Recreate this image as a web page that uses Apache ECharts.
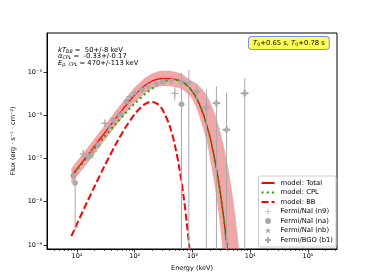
<!DOCTYPE html>
<html><head><meta charset="utf-8">
<script src="https://cdn.jsdelivr.net/npm/echarts@6/dist/echarts.min.js"></script>
<style>html,body{margin:0;padding:0;background:#fff}#c{width:374px;height:280px}</style>
</head><body><div id="c"></div>
<script>
// ---- model curves (energy keV, flux erg s^-1 cm^-2) ----
const modelE = [8,10,15,20,30,50,70,100,150,200,250,300,400,500,600,700,850,1000,1200,1500,1800,2000,2300,2600,3000,3500,4000,4500];
const modelTotal = [3.95e-8,5.77e-8,1.15e-7,1.90e-7,3.86e-7,9.43e-7,1.67e-6,2.92e-6,4.85e-6,6.16e-6,6.83e-6,7.07e-6,7.04e-6,6.76e-6,6.29e-6,5.66e-6,4.58e-6,3.52e-6,2.35e-6,1.17e-6,5.46e-7,3.20e-7,1.39e-7,5.86e-8,1.79e-8,3.91e-9,8.3e-10,1.7e-10];
const modelCPL = [3.79e-8,5.46e-8,1.06e-7,1.68e-7,3.19e-7,6.96e-7,1.14e-6,1.85e-6,3.05e-6,4.13e-6,5.03e-6,5.70e-6,6.46e-6,6.57e-6,6.24e-6,5.65e-6,4.58e-6,3.52e-6,2.35e-6,1.17e-6,5.46e-7,3.20e-7,1.39e-7,5.86e-8,1.79e-8,3.91e-9,8.3e-10,1.7e-10];
const bbE = [8,10,15,20,30,50,70,100,130,150,175,200,250,300,400,500,600,700,800,900];
const modelBB = [1.6e-9,3.07e-9,9.84e-9,2.21e-8,6.70e-8,2.47e-7,5.34e-7,1.06e-6,1.56e-6,1.80e-6,1.99e-6,2.03e-6,1.80e-6,1.37e-6,5.84e-7,1.93e-7,5.41e-8,1.36e-8,3.13e-9,6.8e-10];
// ---- uncertainty band of total model ----
const bandE = [8,10,15,20,30,50,70,100,150,200,250,300,400,500,600,700,850,1000,1200,1500,1800,2000,2300,2600,3000,3500,4000,4500,5000,5500,6000,6500];
const bandUpper = [5.9e-8,8.7e-8,1.73e-7,2.85e-7,5.8e-7,1.41e-6,2.5e-6,4.4e-6,7.3e-6,9.2e-6,1.02e-5,1.06e-5,1.06e-5,1.01e-5,9.4e-6,8.5e-6,6.9e-6,6.1e-6,5.3e-6,3.9e-6,2.75e-6,2.1e-6,1.35e-6,8.6e-7,4.4e-7,1.9e-7,7.8e-8,3.3e-8,1.3e-8,4.8e-9,1.8e-9,7e-10];
const bandLower = [2.63e-8,3.85e-8,7.7e-8,1.27e-7,2.57e-7,6.3e-7,1.11e-6,1.95e-6,3.23e-6,4.1e-6,4.55e-6,4.71e-6,4.69e-6,4.5e-6,4.19e-6,3.77e-6,3.05e-6,2.35e-6,1.35e-6,5.46e-7,2.2e-7,1.05e-7,3.6e-8,1.25e-8,2.9e-9,4e-10,1e-10,1e-10,1e-10,1e-10,1e-10,1e-10];
// ---- data points: [E, F, Elo, Ehi, Flo, Fhi] ----
const n9 = [[12.8,1.26e-7,11.4,14.4,1.0e-7,1.6e-7],[19.2,1.45e-7,17.6,21,1.2e-7,1.75e-7],[30.5,6.5e-7,27,37,5.3e-7,8.0e-7],[51.8,1.02e-6,47,57,8.7e-7,1.2e-6],[82.5,2.7e-6,74,92,2.3e-6,3.15e-6],[171,4.57e-6,150,195,3.9e-6,5.4e-6],[495,3.2e-6,430,570,2.2e-6,4.5e-6]];
const na = [[9.3,2.7e-8,8.8,9.9,2.2e-9,4.6e-8],[15.7,1.11e-7,14.6,16.9,8.5e-8,1.4e-7],[23.3,2.06e-7,21.3,25.5,1.75e-7,2.45e-7],[42.3,7.8e-7,38.5,46.5,6.7e-7,9.0e-7],[72,2.06e-6,65,80,1.8e-6,2.35e-6],[132,3.8e-6,118,148,3.3e-6,4.4e-6],[312,6.0e-6,275,355,5.0e-6,7.2e-6],[646,1.8e-6,570,730,1e-10,3.6e-6]];
const nb = [[8.6,4.2e-8,8.1,9.1,3.1e-8,5.6e-8],[17.9,1.2e-7,16.6,19.3,1.0e-7,1.45e-7],[37,5.5e-7,33.5,40.5,4.7e-7,6.4e-7],[59,1.11e-6,54,65,9.6e-7,1.28e-6],[101,3.33e-6,91,112,2.9e-6,3.8e-6],[239,5.5e-6,212,268,4.7e-6,6.4e-6],[432,6.5e-6,380,490,5.3e-6,8.0e-6],[865,5.7e-6,760,980,1e-10,1.1e-5]];
const b1 = [[646,6.0e-6,560,740,3.6e-6,9.5e-6],[1180,3.5e-6,1000,1400,2.0e-6,5.0e-6],[1740,1.5e-6,1450,2050,1e-10,4.0e-6],[2600,1.9e-6,2200,3050,1e-10,4.6e-6],[3890,4.6e-7,3300,4600,1e-10,3.3e-6],[8030,3.2e-6,6800,9500,1e-10,7.2e-6]];
// ---- axes ----
const xRange = [3.03, 3.18e5];
const yRange = [8.08e-10, 7.94e-5];
const xTicks = [10,100,1000,10000,100000];
const yTicks = [1e-9,1e-8,1e-7,1e-6,1e-5];
const xMinorTicks = [];
for (let p = 0; p <= 5; p++) for (let k = 2; k <= 9; k++) { const v = k * Math.pow(10, p); if (v > xRange[0] && v < xRange[1]) xMinorTicks.push(v); }

const FONT = 'DejaVu Sans';
const GREY = '#a9a9a9';
const supMap = {'-':'⁻','0':'⁰','1':'¹','2':'²','3':'³','4':'⁴','5':'⁵','6':'⁶','7':'⁷','8':'⁸','9':'⁹'};
function powLabel(v) {
  const l = Math.log10(v), e = Math.round(l);
  if (Math.abs(l - e) > 0.01) return '';
  return '10' + String(e).split('').map(c => supMap[c]).join('');
}
const pairs = (xs, ys) => xs.map((x, i) => [x, ys[i]]);

const SYM_PLUS = 'path://M4.4,0H5.6V4.4H10V5.6H5.6V10H4.4V5.6H0V4.4H4.4Z';
const SYM_P = 'path://M3.2,0H6.8V3.2H10V6.8H6.8V10H3.2V6.8H0V3.2H3.2Z';
const SYM_STAR = 'path://M50,0L61.8,36.2L100,36.2L69.1,58.8L80.9,95.1L50,72.7L19.1,95.1L30.9,58.8L0,36.2L38.2,36.2Z';

function clipRect(params) {
  const c = params.coordSys;
  return {type: 'rect', shape: {x: c.x, y: c.y, width: c.width, height: c.height}};
}
function errRender(params, api) {
  const p = api.coord([api.value(0), api.value(1)]);
  const l = api.coord([api.value(2), api.value(1)]);
  const r = api.coord([api.value(3), api.value(1)]);
  const lo = api.coord([api.value(0), api.value(4)]);
  const hi = api.coord([api.value(0), api.value(5)]);
  const st = {stroke: GREY, lineWidth: 1};
  return {type: 'group', clipPath: clipRect(params), children: [
    {type: 'line', shape: {x1: l[0], y1: p[1], x2: r[0], y2: p[1]}, style: st},
    {type: 'line', shape: {x1: p[0], y1: lo[1], x2: p[0], y2: hi[1]}, style: st}
  ]};
}
const errSeries = (d) => ({type: 'custom', data: d, renderItem: errRender, encode: {x: 0, y: 1}, z: 4, silent: true});
const markSeries = (name, d, sym, size) => ({name, type: 'scatter', data: d.map(r => [r[0], r[1]]), symbol: sym, symbolSize: size, itemStyle: {color: GREY, opacity: 1}, z: 5, silent: true});

const chart = echarts.init(document.getElementById('c'), null, {renderer: 'canvas'});
chart.setOption({
  animation: false,
  textStyle: {fontFamily: FONT},
  grid: {left: 47, right: 37, top: 33, bottom: 31, show: true, borderColor: '#000', borderWidth: 1, containLabel: false},
  xAxis: [{
    type: 'log', logBase: 10, min: xRange[0], max: xRange[1],
    name: 'Energy (keV)', nameLocation: 'middle', nameGap: 14,
    nameTextStyle: {fontSize: 6.5, color: '#000', fontFamily: FONT},
    axisLine: {show: true, lineStyle: {color: '#000', width: 1}},
    axisTick: {show: true, length: 3.5, inside: false, customValues: xTicks, lineStyle: {color: '#000', width: 0.8}},
    axisLabel: {customValues: xTicks, formatter: powLabel, fontSize: 6.5, color: '#000', margin: 4, fontFamily: FONT},
    splitLine: {show: false}, minorTick: {show: false}
  }, {
    type: 'log', logBase: 10, min: xRange[0], max: xRange[1], position: 'bottom',
    axisLine: {show: false},
    axisTick: {show: true, length: 2, inside: false, customValues: xMinorTicks, lineStyle: {color: '#000', width: 0.6}},
    axisLabel: {show: false}, splitLine: {show: false}
  }],
  yAxis: {
    type: 'log', logBase: 10, min: yRange[0], max: yRange[1],
    name: 'Flux (erg · s⁻¹ · cm⁻²)', nameLocation: 'middle', nameGap: 28,
    nameTextStyle: {fontSize: 6.5, color: '#000', fontFamily: FONT},
    axisLine: {show: true, lineStyle: {color: '#000', width: 1}},
    axisTick: {show: true, length: 3.5, inside: false, customValues: yTicks, lineStyle: {color: '#000', width: 0.8}},
    axisLabel: {customValues: yTicks, formatter: powLabel, fontSize: 6.5, color: '#000', margin: 5, fontFamily: FONT},
    splitLine: {show: false}
  },
  legend: {
    orient: 'vertical', right: 38, bottom: 33,
    data: [
      {name: 'model: Total', itemStyle: {opacity: 0}},
      {name: 'model: CPL', itemStyle: {opacity: 0}},
      {name: 'model: BB', itemStyle: {opacity: 0}},
      {name: 'Fermi/NaI (n9)'}, {name: 'Fermi/NaI (na)'}, {name: 'Fermi/NaI (nb)'}, {name: 'Fermi/BGO (b1)'}
    ],
    itemWidth: 13, itemHeight: 6, itemGap: 1.5,
    padding: [3, 3, 3, 2],
    borderColor: '#cccccc', borderWidth: 1, borderRadius: 2,
    backgroundColor: 'rgba(255,255,255,0.8)',
    textStyle: {fontSize: 6.8, color: '#000', lineHeight: 8, fontFamily: FONT, padding: [0, 0, 0, 1]},
    selectedMode: false
  },
  graphic: [
    {type: 'text', left: 58, top: 46, z: 10, style: {
      text: '{i|kT}{s|BB} =  50+/-8 keV\n{i|α}{s|CPL} =  -0.33+/-0.17\n{i|E}{s|p, CPL} = 470+/-113 keV',
      fontSize: 6.8, fontFamily: FONT, fill: '#000', lineHeight: 6.4,
      rich: {
        i: {fontSize: 6.8, fontStyle: 'italic', fontFamily: FONT, lineHeight: 6.4},
        s: {fontSize: 4.8, fontStyle: 'italic', fontFamily: FONT, padding: [3, 0, 0, 0], lineHeight: 6.4}
      }
    }},
    {type: 'text', left: 248, top: 36, z: 10, style: {
      text: '{i|T}{s|0}+0.65 s, {i|T}{s|0}+0.78 s',
      fontSize: 6.8, fontFamily: FONT, fill: '#000',
      backgroundColor: '#ffff55', borderColor: '#7b8cf0', borderWidth: 1, borderRadius: 3,
      padding: [2, 4, 2, 4],
      rich: {
        i: {fontSize: 6.8, fontStyle: 'italic', fontFamily: FONT},
        s: {fontSize: 4.8, fontFamily: FONT, padding: [3, 0, 0, 0]}
      }
    }}
  ],
  series: [
    {type: 'custom', name: 'band', silent: true, z: 1,
      data: [[bandE[0], bandUpper[0]]], encode: {x: 0, y: 1},
      renderItem: (params, api) => {
        const pts = [];
        for (let i = 0; i < bandE.length; i++) pts.push(api.coord([bandE[i], bandUpper[i]]));
        for (let i = bandE.length - 1; i >= 0; i--) pts.push(api.coord([bandE[i], bandLower[i]]));
        return {type: 'polygon', clipPath: clipRect(params), shape: {points: pts}, style: {fill: 'rgba(228,80,80,0.5)'}};
      }},
    {name: 'model: Total', type: 'line', data: pairs(modelE, modelTotal), showSymbol: false, symbol: 'none', smooth: 0.3,
      lineStyle: {color: '#ff0000', width: 1.3, type: 'solid'}, itemStyle: {color: '#ff0000'}, z: 2, silent: true},
    {name: 'model: CPL', type: 'line', data: pairs(modelE, modelCPL), showSymbol: false, symbol: 'none', smooth: 0.3,
      lineStyle: {color: '#22a000', width: 2, type: [2, 3.2]}, itemStyle: {color: '#22a000'}, z: 3, silent: true},
    {name: 'model: BB', type: 'line', data: pairs(bbE, modelBB), showSymbol: false, symbol: 'none', smooth: 0.3,
      lineStyle: {color: '#ff0000', width: 2, type: [7, 3]}, itemStyle: {color: '#ff0000'}, z: 3, silent: true},
    errSeries(n9), errSeries(na), errSeries(nb), errSeries(b1),
    markSeries('Fermi/NaI (n9)', n9, SYM_PLUS, 7),
    markSeries('Fermi/NaI (na)', na, 'circle', 5.5),
    markSeries('Fermi/NaI (nb)', nb, SYM_STAR, 7),
    markSeries('Fermi/BGO (b1)', b1, SYM_P, 6.5)
  ]
});
</script></body></html>
